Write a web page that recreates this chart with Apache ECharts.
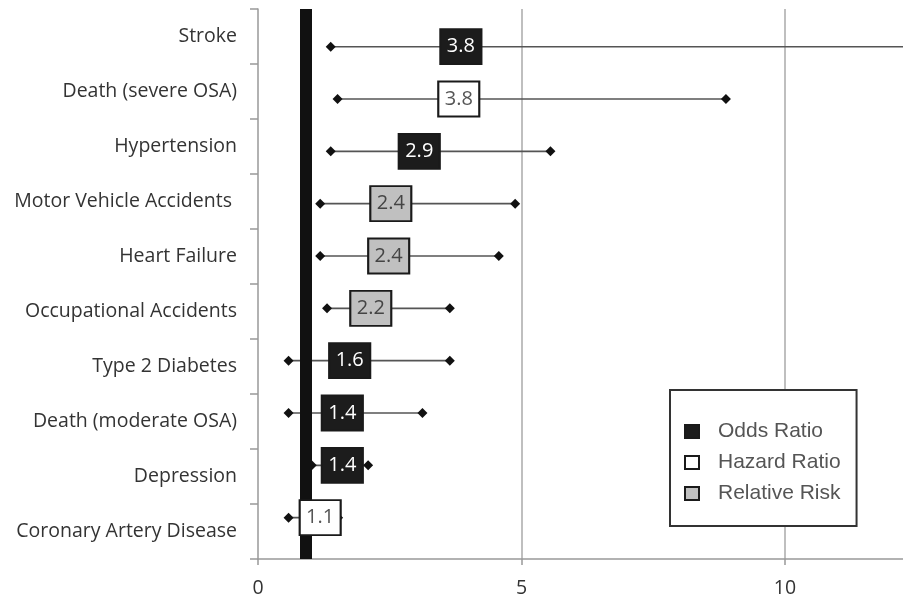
<!DOCTYPE html>
<html>
<head>
<meta charset="utf-8">
<script src="https://cdn.jsdelivr.net/npm/echarts@6/dist/echarts.min.js"></script>
<style>
html,body{margin:0;padding:0;background:#fff;}
#chart{width:903px;height:598px;}
</style>
</head>
<body>
<div id="chart"></div>
<script>
// Rows, top to bottom
const categories = ['Stroke','Death (severe OSA)','Hypertension','Motor Vehicle Accidents ','Heart Failure','Occupational Accidents','Type 2 Diabetes','Death (moderate OSA)','Depression','Coronary Artery Disease'];
const measure = ['OR','HR','OR','RR','RR','RR','OR','OR','OR','HR'];
const estimate = [3.85,3.81,3.06,2.52,2.48,2.14,1.74,1.60,1.60,1.18];
const labelText = ['3.8','3.8','2.9','2.4','2.4','2.2','1.6','1.4','1.4','1.1'];
const lower = [1.38,1.51,1.38,1.18,1.18,1.31,0.58,0.58,1.02,0.58];
const upper = [14.0,8.88,5.55,4.88,4.57,3.64,3.64,3.12,2.09,1.52];
const refLine = 0.9;
const measureNames = {OR:'Odds Ratio', HR:'Hazard Ratio', RR:'Relative Risk'};

const chart = echarts.init(document.getElementById('chart'));

const ciData = categories.map((c,i)=>[lower[i], upper[i], i]);

function boxData(code){
  const out=[];
  categories.forEach((c,i)=>{ if(measure[i]===code) out.push({value:[estimate[i], i], name:labelText[i]}); });
  return out;
}

const boxStyles = {
  OR:{fill:'#1c1c1c', text:'#ffffff'},
  HR:{fill:'#ffffff', text:'#555555'},
  RR:{fill:'#c0c0c0', text:'#444444'}
};

const boxSeries = ['OR','HR','RR'].map(code=>({
  name: measureNames[code],
  type:'scatter',
  xAxisIndex:0, yAxisIndex:1,
  symbol:'rect',
  symbolSize:[41,35],
  z:5,
  itemStyle:{color:boxStyles[code].fill, borderColor:'#1a1a1a', borderWidth:2, opacity:1},
  label:{show:true, position:'inside', formatter:'{b}', color:boxStyles[code].text, fontSize:20, fontFamily:'Open Sans'},
  emphasis:{disabled:true},
  data: boxData(code)
}));

const option = {
  backgroundColor:'#fff',
  animation:false,
  grid:{left:258, right:0, top:9, bottom:39, containLabel:false},
  legend:{
    data:['Odds Ratio','Hazard Ratio','Relative Risk'],
    orient:'vertical',
    left:670, top:390,
    padding:[31,16,22,14],
    borderColor:'#333', borderWidth:2,
    backgroundColor:'#fff',
    itemWidth:14, itemHeight:13, itemGap:10,
    icon:'rect',
    selectedMode:false,
    textStyle:{fontFamily:'Liberation Sans', fontSize:21, color:'#555', padding:[8,0,0,14]}
  },
  xAxis:{
    type:'value', min:0, max:12.24, interval:5,
    axisLine:{show:true, onZero:false, lineStyle:{color:'#999', width:1.5}},
    axisTick:{show:true, length:6, lineStyle:{color:'#999', width:1.5}},
    axisLabel:{fontFamily:'Open Sans', fontSize:19.5, color:'#333', margin:19, showMaxLabel:false},
    splitLine:{show:true, showMinLine:false, showMaxLine:false, lineStyle:{color:'#aaa', width:1.5}}
  },
  yAxis:[{
    type:'category', data:categories, inverse:true,
    axisLine:{show:true, onZero:false, lineStyle:{color:'#999', width:1.5}},
    axisTick:{show:true, length:8, lineStyle:{color:'#999', width:1.5}},
    axisLabel:{fontFamily:'Open Sans', fontSize:19.5, color:'#333', margin:21},
    splitLine:{show:false}
  },{
    type:'value', inverse:true, min:-0.72, max:9.79, show:false,
    axisLine:{show:false, onZero:false}, splitLine:{show:false}
  }],
  series:[{
    type:'custom',
    name:'CI',
    xAxisIndex:0, yAxisIndex:1,
    clip:true,
    z:3,
    encode:{x:[0,1], y:2},
    data:ciData,
    renderItem:function(params, api){
      const a = api.coord([api.value(0), api.value(2)]);
      const b = api.coord([api.value(1), api.value(2)]);
      const d = 5;
      const diamond = (p)=>({type:'polygon', shape:{points:[[p[0]-d,p[1]],[p[0],p[1]-d],[p[0]+d,p[1]],[p[0],p[1]+d]]}, style:{fill:'#111'}});
      return {type:'group', children:[
        {type:'line', shape:{x1:a[0], y1:a[1], x2:b[0], y2:b[1]}, style:{stroke:'#555', lineWidth:1.6}},
        diamond(a), diamond(b)
      ]};
    },
    markLine:{
      silent:true, symbol:['none','none'], label:{show:false},
      lineStyle:{color:'#111', width:12, type:'solid'},
      data:[{xAxis:refLine}]
    }
  }].concat(boxSeries)
};
chart.setOption(option);
</script>
</body>
</html>
